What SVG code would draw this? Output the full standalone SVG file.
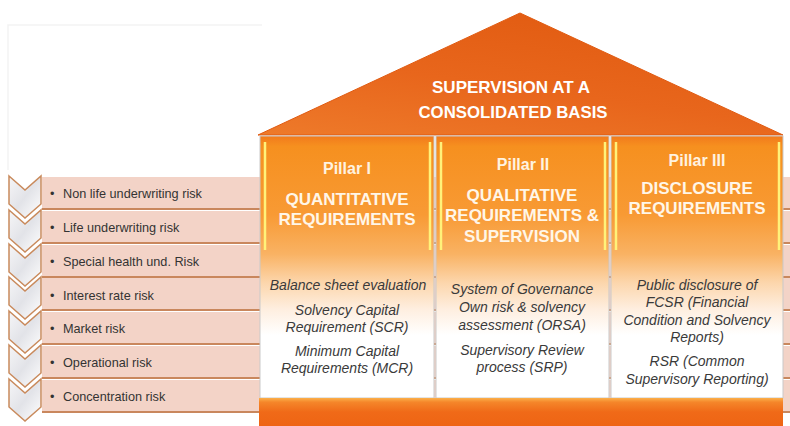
<svg xmlns="http://www.w3.org/2000/svg" width="790" height="426" viewBox="0 0 790 426">
<defs>
<linearGradient id="roofG" x1="0" y1="1" x2="0.6" y2="0">
<stop offset="0" stop-color="#ee7a2a"/>
<stop offset="0.5" stop-color="#e8661c"/>
<stop offset="1" stop-color="#e25c12"/>
</linearGradient>
<linearGradient id="pillarG" x1="0" y1="0" x2="0" y2="1">
<stop offset="0" stop-color="#f27a1c"/>
<stop offset="0.04" stop-color="#f6901f"/>
<stop offset="0.3" stop-color="#f89a34"/>
<stop offset="0.45" stop-color="#f9b263"/>
<stop offset="0.56" stop-color="#fcd6ac"/>
<stop offset="0.66" stop-color="#feeedf"/>
<stop offset="0.76" stop-color="#ffffff"/>
<stop offset="1" stop-color="#ffffff"/>
</linearGradient>
<linearGradient id="baseG" x1="0" y1="0" x2="0" y2="1">
<stop offset="0" stop-color="#fbb04a"/>
<stop offset="0.15" stop-color="#f5862a"/>
<stop offset="0.5" stop-color="#f06a18"/>
<stop offset="1" stop-color="#ee6414"/>
</linearGradient>
<linearGradient id="chevG" x1="0" y1="0" x2="1" y2="1">
<stop offset="0" stop-color="#f6f6f8"/>
<stop offset="0.5" stop-color="#e2e3e8"/>
<stop offset="1" stop-color="#ffffff"/>
</linearGradient>
<polygon id="chev" points="9,0 25,14 41,0 41,28 25,42 9,28"/>
</defs>
<style>
.row{fill:#f3d3c7;}
.rowline{stroke:#c9875d;stroke-width:2;}
.chev{fill:url(#chevG);stroke:#c98a5c;stroke-width:1.5;}
.risk{font-family:"Liberation Sans",Arial,sans-serif;font-size:12.7px;fill:#333;}
.roof-t{font-family:"Liberation Sans",Arial,sans-serif;font-weight:bold;font-size:17px;fill:#ffffff;text-anchor:middle;}
.ptitle{font-family:"Liberation Sans",Arial,sans-serif;font-weight:bold;font-size:16px;fill:#fff3e0;text-anchor:middle;}
.phead{font-family:"Liberation Sans",Arial,sans-serif;font-weight:bold;font-size:17px;fill:#fff6e8;text-anchor:middle;}
.pitem{font-family:"Liberation Sans",Arial,sans-serif;font-style:italic;font-size:14px;fill:#3a3a3a;text-anchor:middle;}
.pillar{fill:url(#pillarG);stroke:#c9c9c9;stroke-width:1;}
.yel{stroke:#fff27a;stroke-width:2.5;}
</style>
<rect width="790" height="426" fill="#ffffff"/>
<path d="M8,170 V25 H262" fill="none" stroke="#f3f3f3" stroke-width="1.5"/>
<g id="risk-list">
<g id="risk-1"><rect class="row" x="42" y="177" width="748" height="32"/><line class="rowline" x1="42" y1="209" x2="790" y2="209"/><use href="#chev" class="chev" y="176"/><text class="risk" x="50" y="198">•</text><text class="risk" x="63" y="198">Non life underwriting risk</text></g>
<g id="risk-2"><rect class="row" x="42" y="211" width="748" height="32"/><line class="rowline" x1="42" y1="243" x2="790" y2="243"/><use href="#chev" class="chev" y="210"/><text class="risk" x="50" y="232">•</text><text class="risk" x="63" y="232">Life underwriting risk</text></g>
<g id="risk-3"><rect class="row" x="42" y="245" width="748" height="32"/><line class="rowline" x1="42" y1="277" x2="790" y2="277"/><use href="#chev" class="chev" y="244"/><text class="risk" x="50" y="266">•</text><text class="risk" x="63" y="266">Special health und. Risk</text></g>
<g id="risk-4"><rect class="row" x="42" y="278" width="748" height="32"/><line class="rowline" x1="42" y1="310" x2="790" y2="310"/><use href="#chev" class="chev" y="277"/><text class="risk" x="50" y="300">•</text><text class="risk" x="63" y="300">Interest rate risk</text></g>
<g id="risk-5"><rect class="row" x="42" y="312" width="748" height="32"/><line class="rowline" x1="42" y1="344" x2="790" y2="344"/><use href="#chev" class="chev" y="311"/><text class="risk" x="50" y="333">•</text><text class="risk" x="63" y="333">Market risk</text></g>
<g id="risk-6"><rect class="row" x="42" y="346" width="748" height="32"/><line class="rowline" x1="42" y1="378" x2="790" y2="378"/><use href="#chev" class="chev" y="345"/><text class="risk" x="50" y="367">•</text><text class="risk" x="63" y="367">Operational risk</text></g>
<g id="risk-7"><rect class="row" x="42" y="380" width="748" height="32"/><line class="rowline" x1="42" y1="412" x2="790" y2="412"/><use href="#chev" class="chev" y="379"/><text class="risk" x="50" y="401">•</text><text class="risk" x="63" y="401">Concentration risk</text></g>
</g>
<g id="roof">
<polygon points="520,13 258,135 783,135" fill="url(#roofG)" stroke="#e05a10" stroke-width="1"/>
<text class="roof-t" x="511" y="93" textLength="158" lengthAdjust="spacingAndGlyphs">SUPERVISION AT A</text>
<text class="roof-t" x="513" y="118" textLength="189" lengthAdjust="spacingAndGlyphs">CONSOLIDATED BASIS</text>
</g>
<g id="pillar-1">
<rect class="pillar" x="260" y="136" width="174" height="262"/>
<line class="yel" x1="265" y1="142" x2="265" y2="250"/>
<line class="yel" x1="430" y1="142" x2="430" y2="250"/>
<text class="ptitle" x="347" y="174">Pillar I</text>
<text class="phead" x="347" y="205">QUANTITATIVE</text>
<text class="phead" x="347" y="225">REQUIREMENTS</text>
<text class="pitem" x="348" y="290">Balance sheet evaluation</text>
<text class="pitem" x="347" y="315">Solvency Capital</text>
<text class="pitem" x="347" y="332">Requirement (SCR)</text>
<text class="pitem" x="347" y="356">Minimum Capital</text>
<text class="pitem" x="347" y="373">Requirements (MCR)</text>
</g>
<g id="pillar-2">
<rect class="pillar" x="436" y="136" width="173" height="262"/>
<line class="yel" x1="441" y1="142" x2="441" y2="250"/>
<line class="yel" x1="605" y1="142" x2="605" y2="250"/>
<text class="ptitle" x="523" y="170">Pillar II</text>
<text class="phead" x="522" y="201">QUALITATIVE</text>
<text class="phead" x="522" y="221">REQUIREMENTS &amp;</text>
<text class="phead" x="522" y="242">SUPERVISION</text>
<text class="pitem" x="522" y="294">System of Governance</text>
<text class="pitem" x="522" y="312">Own risk &amp; solvency</text>
<text class="pitem" x="522" y="330">assessment (ORSA)</text>
<text class="pitem" x="522" y="355">Supervisory Review</text>
<text class="pitem" x="522" y="372">process (SRP)</text>
</g>
<g id="pillar-3">
<rect class="pillar" x="611" y="136" width="172" height="262"/>
<line class="yel" x1="616" y1="142" x2="616" y2="250"/>
<line class="yel" x1="779" y1="142" x2="779" y2="250"/>
<text class="ptitle" x="697" y="166">Pillar III</text>
<text class="phead" x="697" y="194">DISCLOSURE</text>
<text class="phead" x="697" y="214">REQUIREMENTS</text>
<text class="pitem" x="697" y="290">Public disclosure of</text>
<text class="pitem" x="697" y="307">FCSR (Financial</text>
<text class="pitem" x="697" y="325">Condition and Solvency</text>
<text class="pitem" x="697" y="342">Reports)</text>
<text class="pitem" x="697" y="366">RSR (Common</text>
<text class="pitem" x="697" y="384">Supervisory Reporting)</text>
</g>
<g id="base">
<rect x="259" y="398" width="524" height="28" fill="url(#baseG)"/>
</g>
<g id="connectors"/>
</svg>
